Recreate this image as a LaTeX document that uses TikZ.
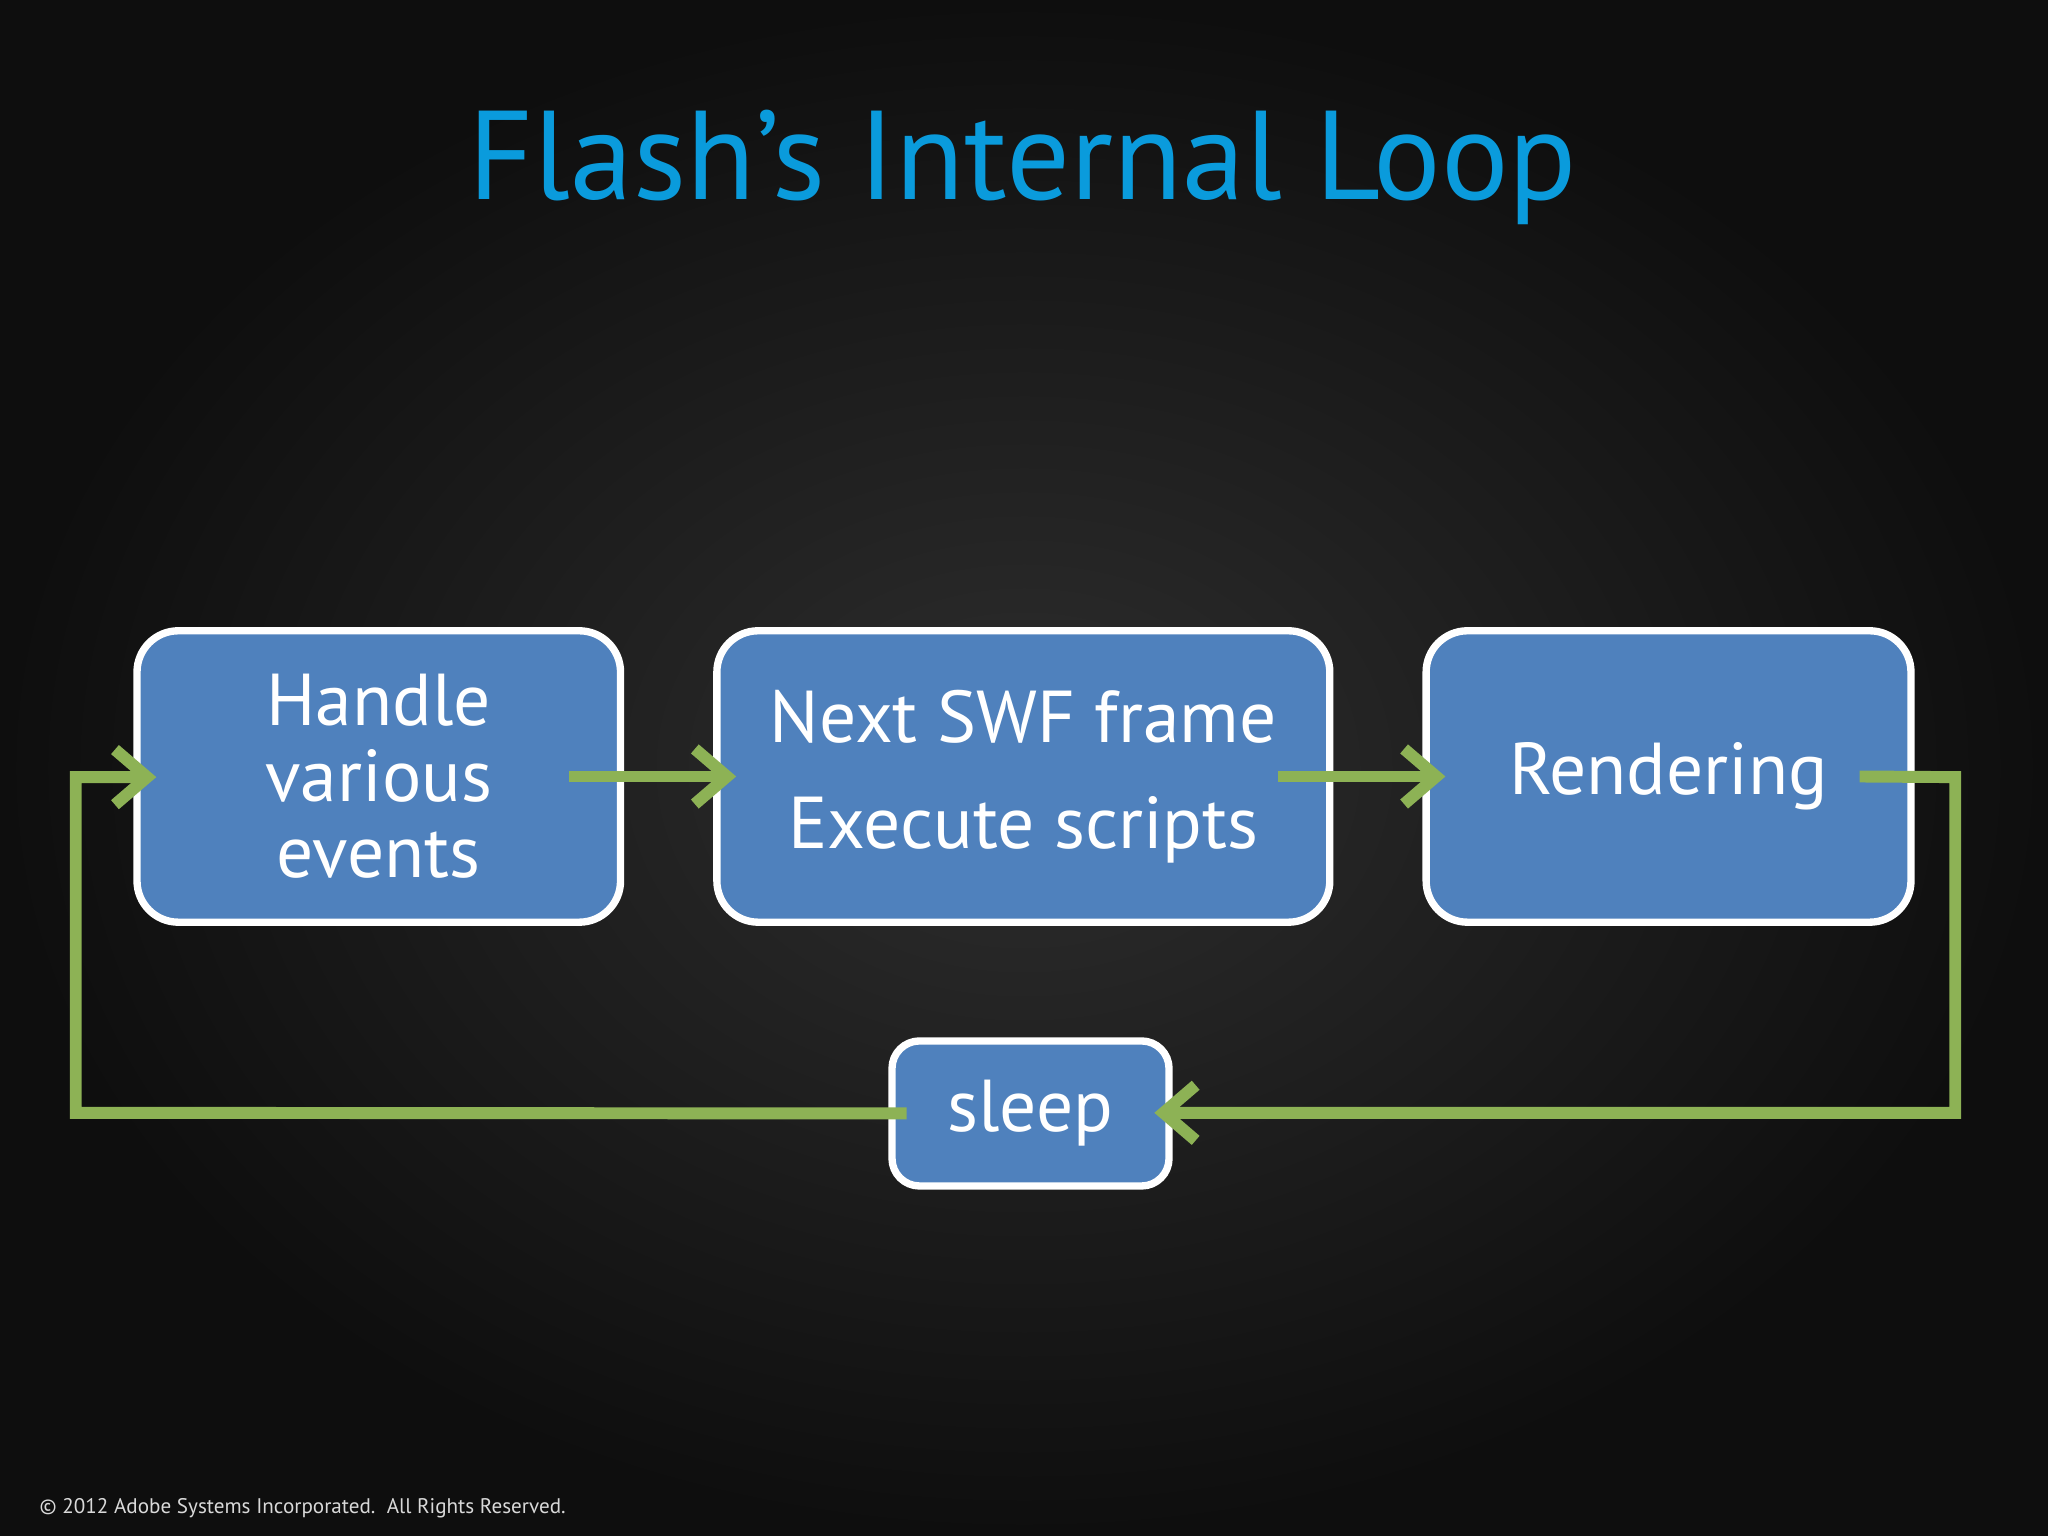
\documentclass[tikz,border=0pt]{standalone}
\usepackage{fontspec}
\setmainfont{PT Sans}
\usetikzlibrary{arrows.meta}
\definecolor{bgin}{HTML}{2E2E2E}
\definecolor{bgout}{HTML}{0E0E0E}
\definecolor{boxblue}{HTML}{4F81BD}
\definecolor{loopgreen}{HTML}{8DB255}
\definecolor{titleblue}{HTML}{0A9BDC}
\tikzset{
  stage/.style={draw=white, line width=1.6pt, fill=boxblue, rounded corners=9pt,
    text=white, align=center, font=\fontsize{16}{16.5}\selectfont, inner sep=0pt},
  flow/.style={draw=loopgreen, line width=2.6pt, -{Straight Barb[length=7pt,width=12pt,line width=2.6pt]}}
}
\begin{document}
\begin{tikzpicture}[x=0.01cm,y=-0.01cm]
			\useasboundingbox (0,0) rectangle (1568,1176);
			\shade[inner color=bgin, outer color=bgout] (0,0) rectangle (1568,1176);
			\node[text=titleblue, font=\fontsize{27.5}{30}\selectfont] (title) at (783,128) {Flash’s Internal Loop};
			\node[stage, minimum width=3.7cm, minimum height=2.23cm] (handle) at (290,594.5) {Handle\\various\\events};
			\node[stage, minimum width=4.69cm, minimum height=2.23cm, font=\fontsize{16}{23}\selectfont] (next) at (783.5,594.5) {Next SWF frame\\Execute scripts};
			\node[stage, minimum width=3.71cm, minimum height=2.23cm] (render) at (1277.5,594.5) {Rendering};
			\node[stage, minimum width=2.12cm, minimum height=1.11cm, rounded corners=6pt] (sleep) at (789,852.5) {sleep};
			\coordinate (rc) at (1497,595);
			\coordinate (rd) at (1497,852);
			\coordinate (ld) at (58,852);
			\coordinate (lc) at (58,595);
			\draw[flow, shorten <= -12pt, shorten >= -5pt] (handle.east) -- (next.west);
			\draw[flow, shorten <= -12pt, shorten >= -5pt] (next.east) -- (render.west);
			\draw[flow, shorten >= -4pt] ([xshift=-12pt]render.east) -- (rc) -- (rd) -- (sleep.east |- rd);
			\draw[flow, shorten >= -5pt] ([xshift=4pt]sleep.west) -- (ld) -- (lc) -- (handle.west |- lc);
			\node[text=white!85!black, font=\fontsize{4.6}{5}\selectfont, anchor=west] (copy) at (18,1155) {© 2012 Adobe Systems Incorporated.\ \ All Rights Reserved.};
		\end{tikzpicture}
\end{document}
